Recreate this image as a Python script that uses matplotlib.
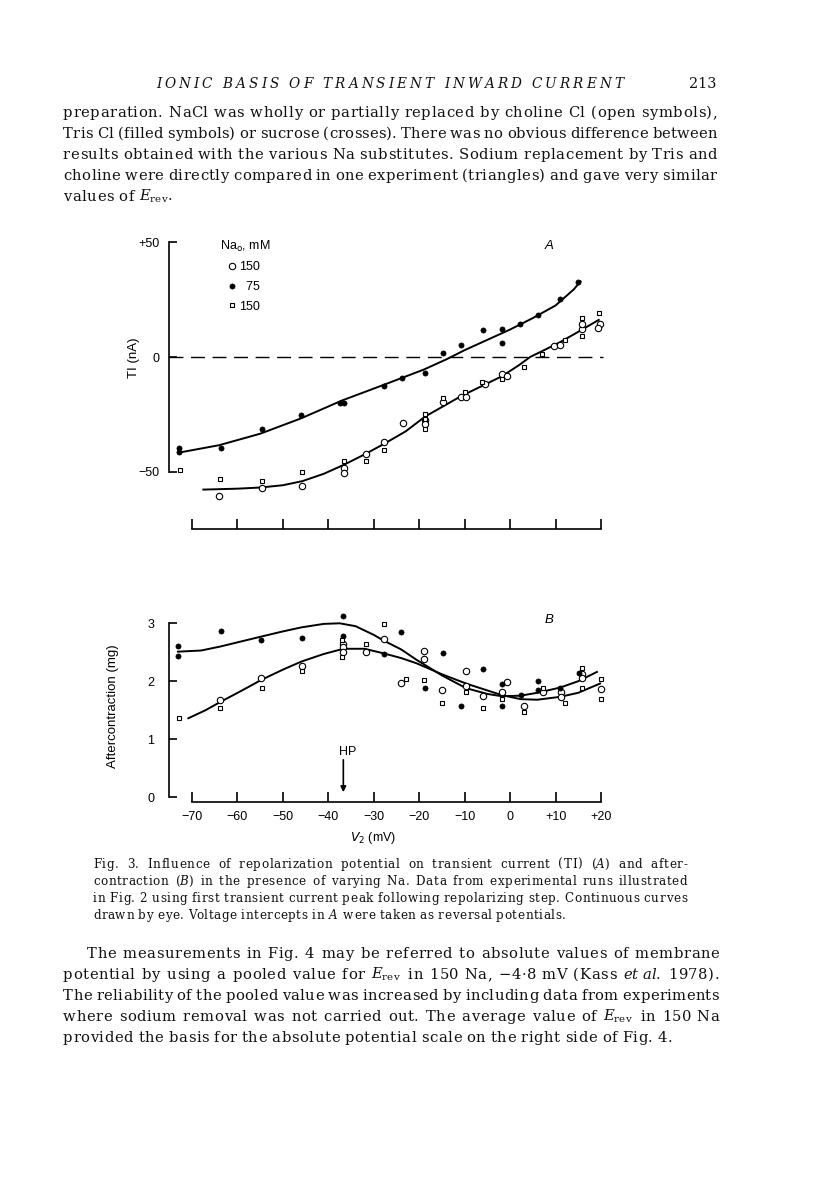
import matplotlib
matplotlib.use('Agg')
from matplotlib import pyplot as plt
from matplotlib.lines import Line2D
from matplotlib.font_manager import FontProperties

W, H = 816, 1183

# ---- panel A: transient current TI (nA) against V2 (mV)
a75_v = [-72.9, -72.9, -63.7, -54.7, -46.0, -37.4, -36.5, -27.8, -23.8, -18.7,
         -14.7, -10.9, -6.0, -1.8, -1.8, 2.1, 6.1, 11.0, 15.0]
a75_i = [-39.9, -41.6, -39.9, -31.6, -25.5, -20.0, -20.2, -12.7, -9.2, -6.9,
         1.7, 5.2, 11.9, 12.2, 6.2, 14.3, 18.2, 25.3, 32.9]

a150o_v = [-64.0, -54.7, -45.7, -36.5, -36.5, -31.8, -27.8, -23.6, -18.7, -18.7,
           -14.7, -10.8, -9.7, -5.6, -1.8, -0.6, 9.7, 11.0, 15.9, 15.9, 19.8, 19.4]
a150o_i = [-60.6, -57.3, -56.3, -48.3, -50.8, -42.5, -37.1, -28.7, -27.5, -29.4,
           -19.8, -17.3, -17.3, -11.8, -7.6, -8.3, 4.8, 5.1, 12.2, 14.3, 14.3, 12.8]

a150s_v = [-72.6, -63.8, -54.7, -45.7, -36.5, -31.8, -27.8, -18.7, -18.7, -18.7,
           -14.7, -9.9, -6.1, -1.8, 3.1, 7.0, 12.1, 15.9, 15.9, 19.6]
a150s_i = [-49.3, -53.3, -54.1, -50.2, -45.4, -45.4, -40.5, -25.0, -27.1, -31.4,
           -17.8, -15.4, -10.8, -9.5, -4.5, 1.2, 7.4, 17.2, 9.2, 19.3]

# curves drawn by eye (knots)
a75_curve_v = [-73, -64, -55, -46, -37, -28, -19, -14, -10, -5, 0, 5, 10, 12, 14, 15.5]
a75_curve_i = [-41.8, -38.5, -33.5, -26.8, -19.0, -12.3, -5.5, -1.0, 3.0, 7.5, 12.0,
               17.0, 22.5, 26.0, 29.5, 33.0]
a150_curve_v = [-67.5, -60, -55, -50, -45.7, -41, -36.5, -32, -27.8, -23, -18.7,
                -14.7, -10.8, -5, -1.8, 2, 4.4, 8, 11, 15, 19.5]
a150_curve_i = [-57.9, -57.5, -57.0, -56.0, -54.2, -51.0, -47.0, -42.5, -38.0, -32.5,
                -26.0, -21.5, -17.1, -11.5, -8.4, -3.5, 0.0, 3.5, 6.5, 11.0, 16.2]
a_ticks = [-50, 0, 50]
a_ticklabels = ['\u221250', '0', '+50']

# ---- panel B: aftercontraction (mg) against V2 (mV)
b75_v = [-73.1, -73.1, -63.7, -54.8, -45.9, -36.7, -36.7, -27.8, -23.9, -18.7,
         -14.7, -10.8, -5.9, -1.8, -1.8, 2.3, 6.1, 6.1, 11.0, 15.2]
b75_f = [2.61, 2.44, 2.87, 2.71, 2.74, 3.13, 2.78, 2.47, 2.85, 1.88,
         2.48, 1.57, 2.21, 1.96, 1.57, 1.76, 1.85, 2.01, 1.88, 2.15]

b150o_v = [-63.8, -54.8, -45.9, -36.7, -36.7, -36.7, -31.8, -27.7, -23.9, -18.9,
           -18.9, -15.0, -9.7, -9.7, -5.9, -1.8, -0.6, 3.1, 7.3, 11.2, 11.2, 15.9,
           15.9, 19.9]
b150o_f = [1.68, 2.06, 2.27, 2.65, 2.59, 2.51, 2.51, 2.73, 1.97, 2.53,
           2.38, 1.84, 2.18, 1.92, 1.75, 1.82, 1.98, 1.57, 1.82, 1.81, 1.72, 2.12,
           2.05, 1.87]

b150s_v = [-72.9, -63.8, -54.7, -45.9, -36.9, -36.9, -31.8, -27.7, -22.9, -18.9,
           -14.9, -9.7, -5.9, -1.8, 3.1, 7.3, 12.1, 15.9, 15.9, 19.9, 19.9]
b150s_f = [1.36, 1.53, 1.89, 2.18, 2.71, 2.41, 2.65, 2.99, 2.04, 2.02,
           1.63, 1.82, 1.53, 1.70, 1.46, 1.89, 1.62, 1.89, 2.22, 2.04, 1.69]

b75_curve_v = [-73.1, -68, -63.7, -59, -54.8, -50, -45.9, -41, -37.5, -34, -30,
               -27.8, -24, -20.6, -15, -9.7, -5, -1.8, 2.3, 6, 11, 15, 19.1]
b75_curve_f = [2.51, 2.53, 2.60, 2.69, 2.77, 2.86, 2.93, 2.99, 3.00, 2.95, 2.80,
               2.70, 2.55, 2.37, 2.10, 1.88, 1.78, 1.74, 1.75, 1.80, 1.89, 2.00, 2.16]
b150_curve_v = [-70.8, -67, -63.8, -59, -54.8, -50, -45.9, -41, -36.7, -32, -27.8,
                -24, -20.6, -15, -9.7, -5, -1.8, 2.3, 6, 11, 15, 19.8]
b150_curve_f = [1.36, 1.50, 1.64, 1.84, 2.02, 2.20, 2.34, 2.47, 2.56, 2.56, 2.48,
                2.40, 2.31, 2.12, 1.96, 1.84, 1.76, 1.69, 1.68, 1.73, 1.80, 1.96]
b_ticks = [0, 1, 2, 3]

x_ticks = [-70, -60, -50, -40, -30, -20, -10, 0, 10, 20]
x_ticklabels = ['\u221270', '\u221260', '\u221250', '\u221240', '\u221230',
                '\u221220', '\u221210', '0', '+10', '+20']
hp_v = -36.7

# ---- page text
header = 'IONIC BASIS OF TRANSIENT INWARD CURRENT'
page_no = '213'
para1 = ['preparation. NaCl was wholly or partially replaced by choline Cl (open symbols),',
         'Tris Cl (filled symbols) or sucrose (crosses). There was no obvious difference between',
         'results obtained with the various Na substitutes. Sodium replacement by Tris and',
         'choline were directly compared in one experiment (triangles) and gave very similar',
         'values of $E_{\\mathrm{rev}}$.']
caption = ['Fig. 3. Influence of repolarization potential on transient current (TI) ($A$) and after-',
           'contraction ($B$) in the presence of varying Na. Data from experimental runs illustrated',
           'in Fig. 2 using first transient current peak following repolarizing step. Continuous curves',
           'drawn by eye. Voltage intercepts in $A$ were taken as reversal potentials.']
para2 = ['The measurements in Fig. 4 may be referred to absolute values of membrane',
         'potential by using a pooled value for $E_{\\mathrm{rev}}$ in 150\u00a0Na, \u22124\u00b78\u00a0mV (Kass $et$\u00a0$al$. 1978).',
         'The reliability of the pooled value was increased by including data from experiments',
         'where sodium removal was not carried out. The average value of $E_{\\mathrm{rev}}$ in 150\u00a0Na',
         'provided the basis for the absolute potential scale on the right side of Fig. 4.']

plt.rcParams['font.family'] = ['Liberation Sans', 'DejaVu Sans']

fig = plt.figure(figsize=(W / 100, H / 100), dpi=100)
fig.set_facecolor('white')
renderer = fig.canvas.get_renderer()


def fpos(x, y):
    return x / W, 1 - y / H


serif = dict(family='DejaVu Serif', math_fontfamily='dejavuserif', color='#111111')


def text_width(s, prop):
    return renderer.get_text_width_height_descent(s, prop, ismath=False)[0]


def word_pieces(word, size):
    # split a word into letters with their natural offsets; math words stay whole
    if '$' in word:
        t = fig.text(0, 0, word, fontsize=size, va='baseline', **serif)
        return [(t, 0.0)], t.get_window_extent(renderer).width
    prop = FontProperties(family='DejaVu Serif', size=size)
    pieces = []
    for k, ch in enumerate(word):
        if ch.isspace():
            continue
        left = text_width(word[:k + 1], prop) - text_width(ch, prop)
        t = fig.text(0, 0, ch, fontsize=size, va='baseline', **serif)
        pieces.append((t, left))
    return pieces, text_width(word, prop)


def text_line(s, x0, y, size, x1=None, track=0.6):
    # one line of page text, letter-spaced and justified between x0 and x1
    words = [word_pieces(w, size) for w in s.split(' ')]
    natural = sum(w[1] for w in words)
    n_track = sum(len(w[0]) - 1 for w in words)
    space = size * 100 / 72 * 0.3
    gaps = len(words) - 1
    if x1 is None or gaps == 0:
        gap = space + track
    else:
        gap = (x1 - x0 - natural - track * n_track) / gaps
        if gap < space:
            track = (x1 - x0 - natural - space * gaps) / n_track
            gap = space
    x = x0
    for pieces, wnat in words:
        for j, (t, left) in enumerate(pieces):
            t.set_position(((x + left + track * j) / W, 1 - y / H))
        x += wnat + track * (len(pieces) - 1) + gap


def spaced_caps(s, x0, x1, y, size, word_gap, **kw):
    # letter-spaced running head
    objs, ends = [], []
    for word in s.split(' '):
        for k, ch in enumerate(word):
            objs.append(fig.text(*fpos(x0, y), ch, fontsize=size, va='baseline', **serif, **kw))
            ends.append(k == len(word) - 1)
    widths = [o.get_window_extent(renderer).width for o in objs]
    n_word = sum(ends) - 1
    g = (x1 - x0 - sum(widths) - word_gap * n_word) / (len(objs) - 1)
    x = x0
    for o, w, e in zip(objs, widths, ends):
        o.set_x(x / W)
        x += w + g + (word_gap if e else 0)


spaced_caps(header, 156, 623, 88, 9.8, 7, style='italic')
fig.text(*fpos(717, 88), page_no, fontsize=10.4, ha='right', va='baseline', **serif)

for k, line in enumerate(para1):
    last = k == len(para1) - 1
    text_line(line, 63, 117 + 21 * k, 10.6, None if last else 717, track=0.55)

for k, line in enumerate(caption):
    last = k == len(caption) - 1
    text_line(line, 93, 868 + 17 * k, 8.6, None if last else 687, track=0.6)

for k, line in enumerate(para2):
    last = k == len(para2) - 1
    x0 = 87 if k == 0 else 63
    text_line(line, x0, 958 + 21 * k, 10.6, None if last else 719, track=0.55)

# ---- axes in page pixels
px_per_mv = 409 / 90.0
xlim = (-70 - (192 - 150) / px_per_mv, 20 + (640 - 601) / px_per_mv)
yaxis_v = -70 - (192 - 169) / px_per_mv

axA = fig.add_axes([150 / W, 1 - 545 / H, 490 / W, 320 / H])
axA.set_xlim(xlim)
axA.set_ylim((357 - 545) / 2.29, (357 - 225) / 2.29)

axB = fig.add_axes([150 / W, 1 - 812 / H, 490 / W, 217 / H])
axB.set_xlim(xlim)
axB.set_ylim((797 - 812) / 57.9, (797 - 595) / 57.9)

for ax in (axA, axB):
    ax.patch.set_visible(False)
    ax.spines[['top', 'right']].set_visible(False)
    ax.spines['left'].set_position(('data', yaxis_v))
    for s in ('left', 'bottom'):
        ax.spines[s].set_linewidth(1.2)
    ax.spines['bottom'].set_bounds(-70, 20)
    ax.set_xticks(x_ticks)
    ax.tick_params(axis='x', direction='in', length=7.2, width=1.2)
    ax.tick_params(axis='y', direction='in', length=5.8, width=1.2)
    ax.tick_params(labelsize=9)

axA.spines['left'].set_bounds(-50, 50)
axA.spines['bottom'].set_position(('data', (357 - 529) / 2.29))
axA.tick_params(axis='x', labelbottom=False)
axA.set_yticks(a_ticks)
axA.set_yticklabels(a_ticklabels)
axA.tick_params(axis='y', pad=6.5)

axB.spines['left'].set_bounds(0, 3)
axB.spines['bottom'].set_position(('data', (797 - 801.5) / 57.9))
axB.set_yticks(b_ticks)
axB.tick_params(axis='y', pad=10.5)
axB.set_xticklabels(x_ticklabels)
axB.tick_params(axis='x', pad=6.5)

open_c = dict(ls='none', marker='o', ms=4.6, mfc='white', mec='k', mew=0.8, clip_on=False, zorder=3)
fill_c = dict(ls='none', marker='o', ms=3.7, mfc='k', mec='k', mew=0.5, clip_on=False, zorder=3)
open_s = dict(ls='none', marker='s', ms=3.4, mfc='white', mec='k', mew=0.8, clip_on=False, zorder=3)
curve = dict(color='k', lw=1.4, clip_on=False, zorder=2)

# panel A
axA.axhline(0, xmin=(yaxis_v - xlim[0]) / (xlim[1] - xlim[0]),
            xmax=(20.5 - xlim[0]) / (xlim[1] - xlim[0]),
            color='k', lw=1, ls=(0, (10, 5.5)))
axA.plot(a75_curve_v, a75_curve_i, **curve)
axA.plot(a150_curve_v, a150_curve_i, **curve)
axA.plot(a150o_v, a150o_i, **open_c)
axA.plot(a75_v, a75_i, **fill_c)
axA.plot(a150s_v, a150s_i, **open_s)

handles = [Line2D([], [], **open_c), Line2D([], [], **fill_c), Line2D([], [], **open_s)]
leg = axA.legend(handles, ['150', '  75', '150'], title='Na$_{\\mathrm{o}}$, mM',
                 loc='upper left', bbox_to_anchor=fpos(220, 238.5),
                 bbox_transform=fig.transFigure, frameon=False, fontsize=9,
                 title_fontsize=9, alignment='left', borderpad=0, borderaxespad=0,
                 handlelength=1.9, handletextpad=-0.4, labelspacing=0.62)
leg.get_title().set_math_fontfamily('dejavusans')
fig.text(*fpos(549, 246), 'A', fontsize=9.5, style='italic', ha='center', va='center')

# panel B
axB.plot(b75_curve_v, b75_curve_f, **curve)
axB.plot(b150_curve_v, b150_curve_f, **curve)
axB.plot(b150o_v, b150o_f, **open_c)
axB.plot(b75_v, b75_f, **fill_c)
axB.plot(b150s_v, b150s_f, **open_s)
fig.text(*fpos(549, 620), 'B', fontsize=9.5, style='italic', ha='center', va='center')

axB.annotate('', xy=(hp_v, 0.035), xytext=(hp_v, 0.69),
             arrowprops=dict(arrowstyle='-|>', lw=1.2, color='k', mutation_scale=8))
axB.text(hp_v + 1, 0.78, 'HP', fontsize=9, ha='center', va='center')

fig.text(*fpos(134, 358), 'TI (nA)', rotation=90, fontsize=9.5, ha='center', va='center')
fig.text(*fpos(113, 706), 'Aftercontraction (mg)', rotation=90, fontsize=9.5,
         ha='center', va='center')
fig.text(*fpos(373, 838), '$V_2$ (mV)', fontsize=9, ha='center', va='center',
         math_fontfamily='dejavusans')

fig.savefig('out.png', dpi=100, facecolor='white')
